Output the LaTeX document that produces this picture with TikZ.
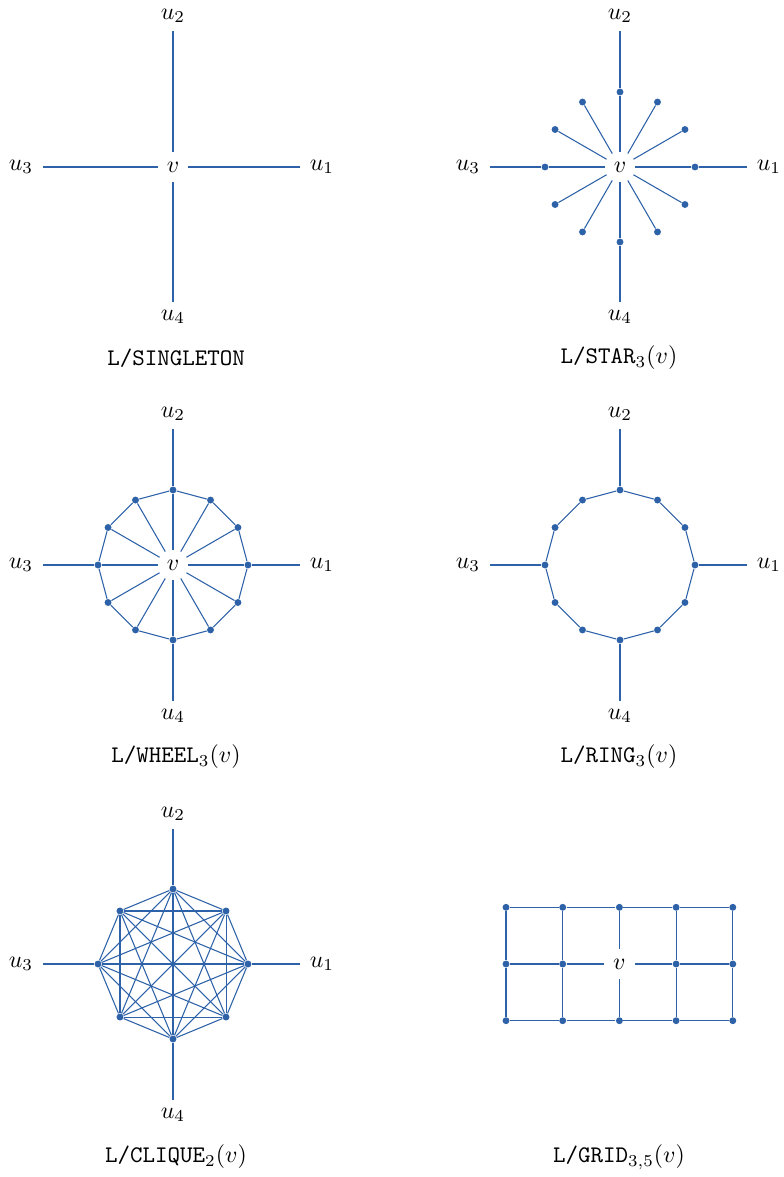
\documentclass[tikz,border=0pt]{standalone}
\definecolor{gblue}{RGB}{46,98,168}
\tikzset{
  edge/.style={draw=gblue, line width=0.45pt},
  dot/.style={circle, fill=gblue, inner sep=0pt, minimum size=2.9pt},
  ctr/.style={circle, inner sep=0pt, minimum size=12.6pt},
  ulab/.style={inner xsep=4pt, inner ysep=3.4pt, text height=4.3pt, text depth=1.5pt},
  captext/.style={inner sep=0pt},
}
\begin{document}
\begin{tikzpicture}[x=0.42pt, y=-0.42pt]
\useasboundingbox (0,0) rectangle (783,1177);

% ---------- Panel 1: singleton ----------
\node[ctr] (sv) at (173,167) {$v$};
\node[ulab] (su1) at (322,167) {$u_1$};
\node[ulab] (su2) at (173,16) {$u_2$};
\node[ulab] (su3) at (21,167) {$u_3$};
\node[ulab] (su4) at (173,317) {$u_4$};
\draw[edge] (sv) -- (su1);
\draw[edge] (sv) -- (su2);
\draw[edge] (sv) -- (su3);
\draw[edge] (sv) -- (su4);
\node[captext] (c1) at (176,358) {\texttt{L/SINGLETON}};

% ---------- Panel 2: star ----------
\node[ctr] (tv) at (620,167) {$v$};
\node[ulab] (tu1) at (769,167) {$u_1$};
\node[ulab] (tu2) at (620,16) {$u_2$};
\node[ulab] (tu3) at (468,167) {$u_3$};
\node[ulab] (tu4) at (620,317) {$u_4$};
\foreach \k in {0,...,11} {
  \node[dot] (t\k) at ({620+75*cos(30*\k)},{167-75*sin(30*\k)}) {};
  \draw[edge] (tv) -- (t\k);
}
\draw[edge] (tu1) -- (t0);
\draw[edge] (tu2) -- (t3);
\draw[edge] (tu3) -- (t6);
\draw[edge] (tu4) -- (t9);
\node[captext] (c2) at (619,358) {\texttt{L/STAR}$_3(v)$};

% ---------- Panel 3: wheel ----------
\node[ctr] (wv) at (173,565) {$v$};
\node[ulab] (wu1) at (322,565) {$u_1$};
\node[ulab] (wu2) at (173,414) {$u_2$};
\node[ulab] (wu3) at (21,565) {$u_3$};
\node[ulab] (wu4) at (173,716) {$u_4$};
\foreach \k in {0,...,11} {
  \node[dot] (w\k) at ({173+75*cos(30*\k)},{565-75*sin(30*\k)}) {};
  \draw[edge] (wv) -- (w\k);
}
\foreach \k [evaluate=\k as \n using {int(mod(\k+1,12))}] in {0,...,11} {
  \draw[edge] (w\k) -- (w\n);
}
\draw[edge] (wu1) -- (w0);
\draw[edge] (wu2) -- (w3);
\draw[edge] (wu3) -- (w6);
\draw[edge] (wu4) -- (w9);
\node[captext] (c3) at (176,757) {\texttt{L/WHEEL}$_3(v)$};

% ---------- Panel 4: ring ----------
\node[ulab] (ru1) at (769,565) {$u_1$};
\node[ulab] (ru2) at (620,414) {$u_2$};
\node[ulab] (ru3) at (468,565) {$u_3$};
\node[ulab] (ru4) at (620,716) {$u_4$};
\foreach \k in {0,...,11} {
  \node[dot] (r\k) at ({620+75*cos(30*\k)},{565-75*sin(30*\k)}) {};
}
\foreach \k [evaluate=\k as \n using {int(mod(\k+1,12))}] in {0,...,11} {
  \draw[edge] (r\k) -- (r\n);
}
\draw[edge] (ru1) -- (r0);
\draw[edge] (ru2) -- (r3);
\draw[edge] (ru3) -- (r6);
\draw[edge] (ru4) -- (r9);
\node[captext] (c4) at (619,757) {\texttt{L/RING}$_3(v)$};

% ---------- Panel 5: clique ----------
\node[ulab] (ku1) at (322,964) {$u_1$};
\node[ulab] (ku2) at (173,814) {$u_2$};
\node[ulab] (ku3) at (21,964) {$u_3$};
\node[ulab] (ku4) at (173,1115) {$u_4$};
\foreach \k in {0,...,7} {
  \node[dot] (k\k) at ({173+75*cos(45*\k)},{964-75*sin(45*\k)}) {};
}
\foreach \a in {0,...,6} {
  \pgfmathtruncatemacro{\s}{\a+1}
  \foreach \b in {\s,...,7} {
    \draw[edge] (k\a) -- (k\b);
  }
}
\draw[edge] (ku1) -- (k0);
\draw[edge] (ku2) -- (k2);
\draw[edge] (ku3) -- (k4);
\draw[edge] (ku4) -- (k6);
\node[captext] (c5) at (176,1157) {\texttt{L/CLIQUE}$_2(v)$};

% ---------- Panel 6: grid ----------
\foreach \i in {0,...,4} {
  \foreach \j in {0,...,2} {
    \ifnum\i=2 \ifnum\j=1 \else
      \node[dot] (g\i-\j) at ({506+56.7*\i},{907.3+56.7*\j}) {};
    \fi \else
      \node[dot] (g\i-\j) at ({506+56.7*\i},{907.3+56.7*\j}) {};
    \fi
  }
}
\node[ctr] (g2-1) at (619.4,964) {$v$};
\foreach \i [evaluate=\i as \n using {int(\i+1)}] in {0,...,3} {
  \foreach \j in {0,...,2} {
    \draw[edge] (g\i-\j) -- (g\n-\j);
  }
}
\foreach \i in {0,...,4} {
  \draw[edge] (g\i-0) -- (g\i-1);
  \draw[edge] (g\i-1) -- (g\i-2);
}
\node[captext] (c6) at (619,1157) {\texttt{L/GRID}$_{3,5}(v)$};
\end{tikzpicture}
\end{document}
